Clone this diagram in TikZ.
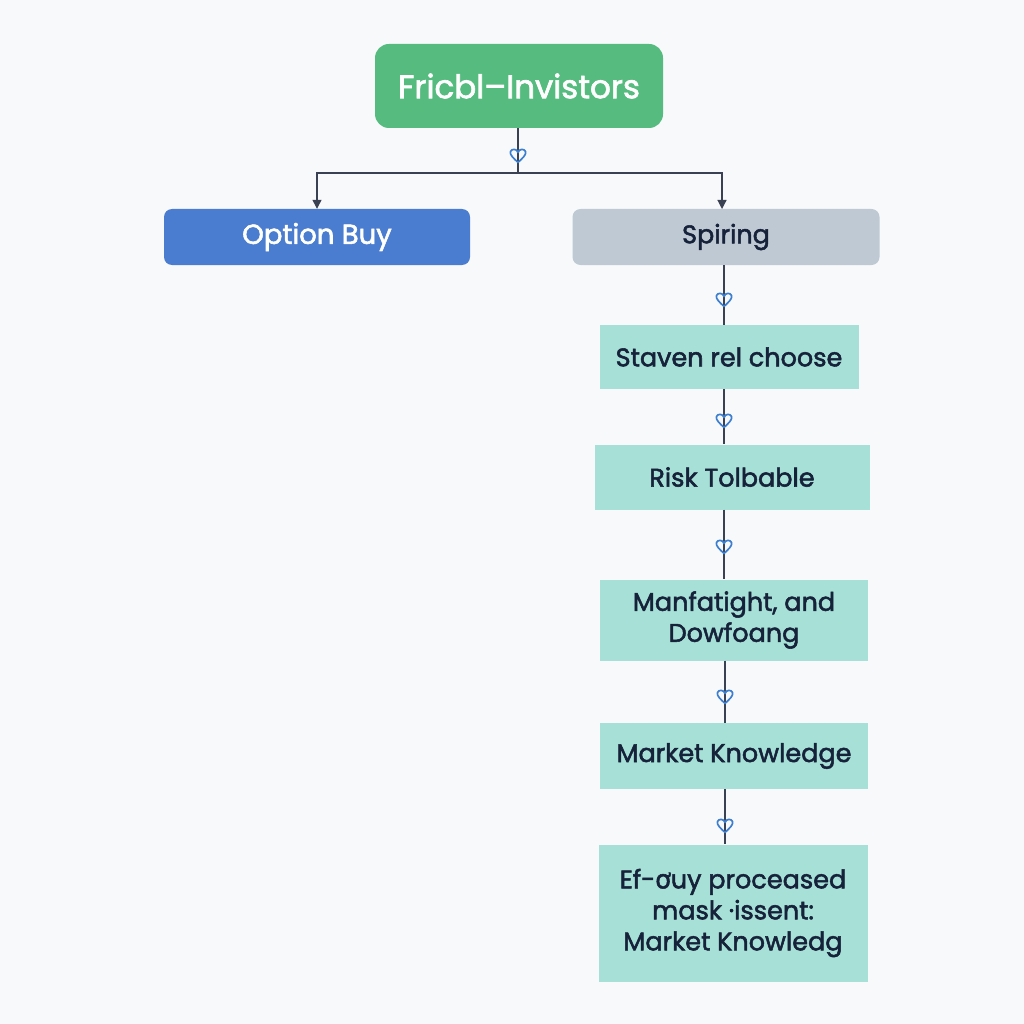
\documentclass[tikz,border=0pt]{standalone}
\usepackage{fontspec}
\setmainfont{Poppins}[BoldFont=Poppins, BoldFeatures={FakeBold=2}]
\newfontfamily\dvfont{DejaVu Sans}[BoldFont=DejaVu Sans, BoldFeatures={FakeBold=2}]
\usetikzlibrary{arrows.meta}
\definecolor{bgc}{HTML}{F8F9FA}
\definecolor{greenc}{HTML}{55BB7E}
\definecolor{bluec}{HTML}{4A7DCF}
\definecolor{greyc}{HTML}{BFC9D4}
\definecolor{tealc}{HTML}{A7E0D6}
\definecolor{navy}{HTML}{16213A}
\definecolor{linec}{HTML}{3A4152}
\definecolor{heartc}{HTML}{3C7FD0}
\tikzset{
  box/.style={inner sep=0pt, align=center, font=\bfseries\fontsize{25.5}{31}\selectfont},
  topbox/.style={box, fill=greenc, rounded corners=14pt, text=white, font=\bfseries\fontsize{32.5}{34}\selectfont},
  optbox/.style={box, fill=bluec, rounded corners=8pt, text=white, font=\bfseries\fontsize{27.5}{31}\selectfont},
  grybox/.style={box, fill=greyc, rounded corners=8pt, text=navy},
  tbox/.style={box, fill=tealc, text=navy},
  conn/.style={draw=linec, line width=1.2pt},
  arr/.style={conn, -{Triangle[length=9pt,width=9pt]}},
  heart/.pic={\draw[heartc, line width=1.7pt, line join=round]
     (0,6.5) .. controls (-4.5,2) and (-8.5,-1) .. (-7.5,-4.5)
     .. controls (-6.5,-7.5) and (-1,-7.5) .. (0,-3.5)
     .. controls (1,-7.5) and (6.5,-7.5) .. (7.5,-4.5)
     .. controls (8.5,-1) and (4.5,2) .. (0,6.5) -- cycle;}
}
\begin{document}
\begin{tikzpicture}[x=1pt,y=-1pt]
\fill[bgc] (0,0) rectangle (1024,1024);
\useasboundingbox (0,0) rectangle (1024,1024);
\node[topbox, minimum width=288pt, minimum height=84pt] (top) at (519,86) {Fricbl–Invistors};
\node[optbox, minimum width=306pt, minimum height=56pt] (opt) at (317,237) {Option Buy};
\node[grybox, minimum width=307pt, minimum height=56pt] (spi) at (726,237) {Spiring};
\node[tbox, minimum width=259pt, minimum height=64pt] (b1) at (729,357) {Staven rel choose};
\node[tbox, minimum width=275pt, minimum height=65pt] (b2) at (732,477) {Risk Tolbable};
\node[tbox, minimum width=268pt, minimum height=81pt] (b3) at (734,620) {Manfatight, and\\Dowfoang};
\node[tbox, minimum width=268pt, minimum height=66pt] (b4) at (734,756) {Market Knowledge};
\node[tbox, minimum width=269pt, minimum height=137pt] (b5) at (733,913) {Ef-{\dvfont ơ}uy proceased\\mask ·issent:\\Market Knowledg};
\coordinate (split) at (518,173);
\coordinate (spitop) at (722,209);
\draw[conn] (top.south -| split) -- (split);
\draw[arr] (split) -| (opt.north);
\draw[arr] (split) -| (spitop);
\draw[conn] (spi.south -| 724,0) -- (b1.north -| 724,0);
\draw[conn] (b1.south -| 724,0) -- (b2.north -| 724,0);
\draw[conn] (b2.south -| 724,0) -- (b3.north -| 724,0);
\draw[conn] (b3.south -| 725,0) -- (b4.north -| 725,0);
\draw[conn] (b4.south -| 725,0) -- (b5.north -| 725,0);
\pic at (518,156) {heart};
\pic at (724,300) {heart};
\pic at (724,421) {heart};
\pic at (724,547) {heart};
\pic at (725,697) {heart};
\pic at (725,826) {heart};
\end{tikzpicture}
\end{document}
